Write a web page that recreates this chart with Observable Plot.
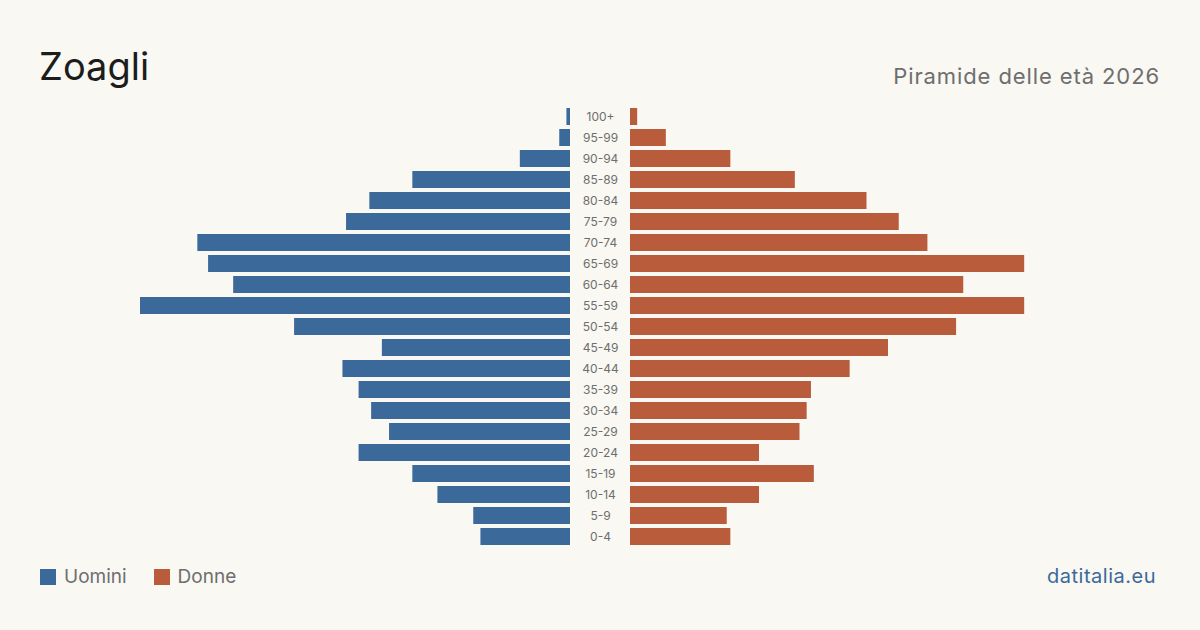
<!DOCTYPE html>
<html>
<head>
<meta charset="utf-8">
<script src="https://cdn.jsdelivr.net/npm/d3@7"></script>
<script src="https://cdn.jsdelivr.net/npm/@observablehq/plot@0.6"></script>
<style>
  html, body { margin: 0; padding: 0; background: #f9f8f3; }
  #wrap { position: relative; width: 1200px; height: 630px; overflow: hidden; font-family: Inter, "Noto Sans", sans-serif; }
  #chart { position: absolute; left: 0; top: 0; }
  .abs { position: absolute; line-height: 1; white-space: nowrap; }
  #title { left: 39px; top: 47px; font-size: 38px; color: #1c1c1c; }
  #subtitle { right: 40px; top: 65px; font-size: 22px; color: #6e6e6e; letter-spacing: 0.9px; }
  #legend { left: 40px; top: 567px; font-size: 19px; color: #6e6e6e; display: flex; align-items: center; }
  #legend .sw { width: 16px; height: 16px; display: inline-block; margin-right: 8px; }
  #legend .item { display: flex; align-items: center; margin-right: 27px; }
  #source { right: 44px; top: 566px; font-size: 20px; color: #3b6a9a; letter-spacing: 0.5px; }
</style>
</head>
<body>
<div id="wrap">
  <div id="chart"></div>
  <div class="abs" id="title">Zoagli</div>
  <div class="abs" id="subtitle">Piramide delle età 2026</div>
  <div class="abs" id="legend"></div>
  <div class="abs" id="source">datitalia.eu</div>
</div>
<script>
const ages = ["0-4","5-9","10-14","15-19","20-24","25-29","30-34","35-39","40-44","45-49","50-54","55-59","60-64","65-69","70-74","75-79","80-84","85-89","90-94","95-99","100+"];
const men   = [25, 27, 37, 44, 59, 50.5, 55.5, 59, 63.5, 52.5, 77, 120, 94, 101, 104, 62.5, 56, 44, 14, 3, 1];
const women = [28, 27, 36, 51.3, 36, 47.3, 49.3, 50.5, 61.3, 72, 91, 110, 93, 110, 83, 75, 66, 46, 28, 10, 2];
const seriesNames = ["Uomini", "Donne"];
const seriesColors = ["#3b6a9a", "#b95c3c"];

const data = ages.map((age, i) => ({age, men: men[i], women: women[i]}));
const maxv = d3.max([...men, ...women]);
const gap = maxv * 30 / 430; // half of the central label gutter, in data units

const chart = Plot.plot({
  width: 1200,
  height: 630,
  marginTop: 106,
  marginBottom: 83,
  marginLeft: 140,
  marginRight: 140,
  style: {background: "transparent", fontFamily: "Inter, 'Noto Sans', sans-serif"},
  x: {domain: [-(maxv + gap), maxv + gap], axis: null},
  y: {domain: ages.slice().reverse(), axis: null, paddingInner: 0.19, paddingOuter: 0.095},
  marks: [
    Plot.barX(data, {y: "age", x1: -gap, x2: d => -gap - d.men, fill: seriesColors[0]}),
    Plot.barX(data, {y: "age", x1: gap, x2: d => gap + d.women, fill: seriesColors[1]}),
    Plot.text(data, {y: "age", x: 0, text: "age", fill: "#6e6e6e", fontSize: 12})
  ]
});
document.getElementById("chart").appendChild(chart);

const legend = document.getElementById("legend");
seriesNames.forEach((name, i) => {
  const item = document.createElement("span");
  item.className = "item";
  const sw = document.createElement("span");
  sw.className = "sw";
  sw.style.background = seriesColors[i];
  item.appendChild(sw);
  item.appendChild(document.createTextNode(name));
  legend.appendChild(item);
});
</script>
</body>
</html>
